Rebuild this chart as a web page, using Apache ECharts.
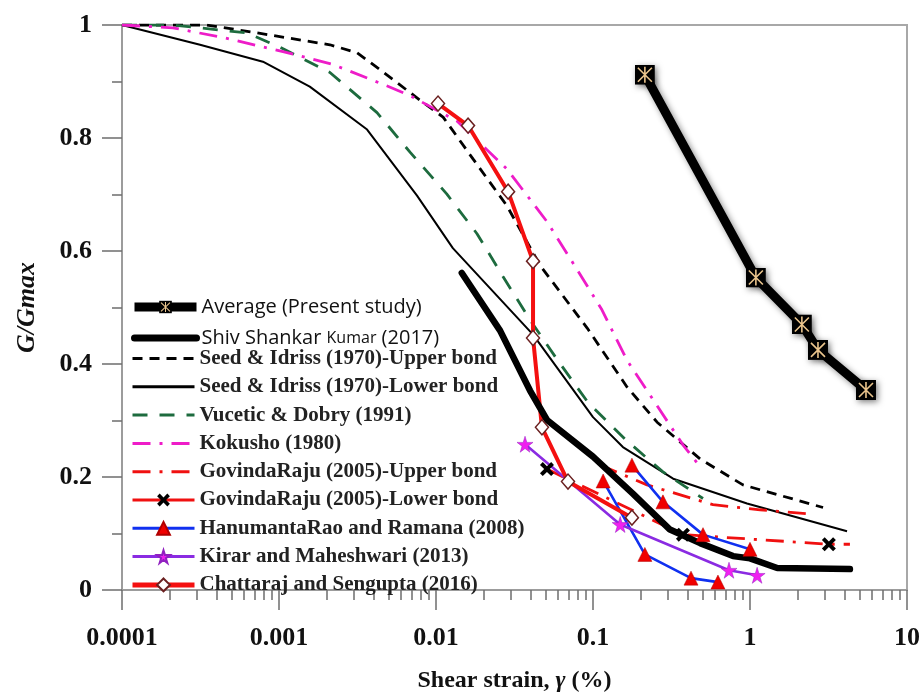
<!DOCTYPE html>
<html>
<head>
<meta charset="utf-8">
<title>G/Gmax vs shear strain</title>
<script src="https://cdn.jsdelivr.net/npm/echarts@6/dist/echarts.min.js"></script>
<style>
  html,body{margin:0;padding:0;background:#fff;}
  #main{width:924px;height:698px;}
</style>
</head>
<body>
<div id="main"></div>
<script>
// values: x = shear strain (%), y = G/Gmax
var avgX = [0.214, 1.09, 2.14, 2.71, 5.48];
var avgY = [0.912, 0.553, 0.470, 0.425, 0.354];

var shivX = [0.0146, 0.0256, 0.0397, 0.0509, 0.1, 0.18, 0.309, 0.481, 0.78, 1.0, 1.49, 4.33];
var shivY = [0.561, 0.459, 0.353, 0.301, 0.236, 0.170, 0.107, 0.083, 0.060, 0.056, 0.039, 0.037];

var seedUX = [0.0001, 0.000347, 0.000724, 0.00211, 0.00314, 0.00439, 0.00826, 0.0111, 0.0172, 0.0283, 0.0459, 0.0916, 0.165, 0.256, 0.481, 0.902, 2.92];
var seedUY = [1, 1, 0.986, 0.965, 0.951, 0.921, 0.863, 0.837, 0.763, 0.680, 0.575, 0.464, 0.359, 0.297, 0.232, 0.186, 0.146];

var seedLX = [0.0001, 0.000314, 0.00079, 0.00157, 0.00364, 0.00757, 0.0128, 0.0415, 0.1, 0.155, 0.324, 0.957, 4.15];
var seedLY = [1, 0.965, 0.935, 0.891, 0.815, 0.698, 0.605, 0.452, 0.306, 0.253, 0.197, 0.153, 0.104];

var vdX = [0.0001, 0.000211, 0.000625, 0.00101, 0.00211, 0.00421, 0.00683, 0.0117, 0.0182, 0.0267, 0.0397, 0.0598, 0.0929, 0.160, 0.279, 0.502];
var vdY = [1, 1, 0.986, 0.961, 0.916, 0.845, 0.775, 0.701, 0.631, 0.555, 0.478, 0.406, 0.332, 0.267, 0.209, 0.162];

var kokX = [0.0001, 0.000211, 0.000453, 0.00106, 0.00221, 0.0046, 0.00683, 0.0136, 0.0283, 0.0509, 0.0768, 0.114, 0.165, 0.374, 0.494];
var kokY = [1, 0.995, 0.977, 0.953, 0.930, 0.895, 0.875, 0.830, 0.745, 0.652, 0.573, 0.496, 0.406, 0.257, 0.214];

var govUX = [0.111, 0.221, 0.581, 1.16, 2.31];
var govUY = [0.221, 0.186, 0.151, 0.142, 0.135];

var govLX = [0.0509, 0.374, 3.18, 4.33];
var govLY = [0.214, 0.098, 0.081, 0.081];

var hanAX = [0.177, 0.279, 0.502, 1.0];
var hanAY = [0.221, 0.156, 0.098, 0.072];
var hanBX = [0.116, 0.214, 0.421, 0.625];
var hanBY = [0.193, 0.063, 0.021, 0.014];

var kirX = [0.0369, 0.149, 0.735, 1.11];
var kirY = [0.258, 0.116, 0.035, 0.026];

var chaX = [0.0103, 0.016, 0.0288, 0.0415, 0.0415, 0.0473, 0.0693, 0.177];
var chaY = [0.861, 0.822, 0.705, 0.582, 0.446, 0.288, 0.192, 0.128];

var xTickLabels = ['0.0001', '0.001', '0.01', '0.1', '1', '10'];

function pairs(xs, ys) {
  return xs.map(function (x, i) { return [x, ys[i]]; });
}

// minor tick positions of the log axis, in log10 units (2..9 of each decade)
var minorTicks = [];
for (var k = -4; k < 1; k++) {
  for (var m = 2; m <= 9; m++) minorTicks.push(Math.log10(m) + k);
}

var avgSvg = "<svg xmlns='http://www.w3.org/2000/svg' width='20' height='20'>" +
  "<rect width='20' height='20' fill='#000'/>" +
  "<path d='M3 3L17 17M17 3L3 17M10 2V18' stroke='#eac48c' stroke-width='1.6'/></svg>";
var avgSymbol = 'image://data:image/svg+xml;charset=utf-8,' + encodeURIComponent(avgSvg);
var crossSymbol = 'path://M2,0 L5,3 L8,0 L10,2 L7,5 L10,8 L8,10 L5,7 L2,10 L0,8 L3,5 L0,2Z';
var starSymbol = 'path://M50,0 L61,35 L98,35 L68,57 L79,91 L50,70 L21,91 L32,57 L2,35 L39,35Z';

var serif = 'Liberation Serif';
var tickGray = '#6e6e6e';
var noSym = {opacity: 0, color: 'rgba(0,0,0,0)', borderWidth: 0};

var chart = echarts.init(document.getElementById('main'));
chart.setOption({
  animation: false,
  backgroundColor: '#fff',
  grid: {left: 122, right: 17, top: 25, bottom: 104, show: true, borderColor: '#a8a8a8', borderWidth: 2},
  legend: [{
    orient: 'vertical', left: 125, top: 292, itemWidth: 62, itemHeight: 16, itemGap: 11,
    textStyle: {fontFamily: 'Open Sans', fontSize: 20, color: '#111', lineHeight: 20,
      rich: {s: {fontFamily: 'Open Sans', fontSize: 16, color: '#111'}}},
    formatter: function (n) { return n.indexOf('Kumar') > 0 ? 'Shiv Shankar {s|Kumar} (2017)' : n; },
    data: [
      {name: 'Average (Present study)', lineStyle: {width: 9, color: '#000'}},
      {name: 'Shiv Shankar Kumar (2017)', itemStyle: noSym, lineStyle: {width: 7, color: '#000'}}
    ]
  }, {
    orient: 'vertical', left: 125, top: 343, itemWidth: 62, itemHeight: 16, itemGap: 7.3,
    textStyle: {fontFamily: serif, fontWeight: 'bold', fontSize: 21, color: '#222', lineHeight: 20},
    data: [
      {name: 'Seed & Idriss (1970)-Upper bond', itemStyle: noSym, lineStyle: {width: 3}},
      {name: 'Seed & Idriss (1970)-Lower bond', itemStyle: noSym, lineStyle: {width: 3}},
      {name: 'Vucetic & Dobry (1991)', itemStyle: noSym, lineStyle: {width: 3}},
      {name: 'Kokusho (1980)', itemStyle: noSym, lineStyle: {width: 3}},
      {name: 'GovindaRaju (2005)-Upper bond', itemStyle: noSym, lineStyle: {width: 3}},
      {name: 'GovindaRaju (2005)-Lower bond', lineStyle: {width: 3, type: 'solid'}},
      {name: 'HanumantaRao and Ramana (2008)', lineStyle: {width: 3}},
      {name: 'Kirar and Maheshwari (2013)', lineStyle: {width: 3}},
      {name: 'Chattaraj and Sengupta (2016)', lineStyle: {width: 5}}
    ]
  }],
  xAxis: [{
    type: 'log', logBase: 10, min: 0.0001, max: 10, position: 'bottom',
    name: 'Shear strain, {g|γ} (%)', nameLocation: 'middle', nameGap: 79,
    nameTextStyle: {fontFamily: serif, fontWeight: 'bold', fontSize: 24, color: '#111',
      rich: {g: {fontFamily: serif, fontWeight: 'bold', fontStyle: 'italic', fontSize: 24, color: '#111'}}},
    axisLine: {show: true, onZero: false, lineStyle: {color: '#9c9c9c', width: 2}},
    axisTick: {show: true, inside: false, length: 20, lineStyle: {color: tickGray, width: 1.5}},
    axisLabel: {margin: 35, fontFamily: serif, fontWeight: 'bold', fontSize: 26, color: '#111',
      formatter: function (v) { return xTickLabels[Math.round(Math.log10(v)) + 4]; }},
    splitLine: {show: false}
  }, {
    type: 'value', min: -4, max: 1, position: 'bottom',
    axisLine: {show: false, onZero: false},
    axisTick: {show: true, inside: false, length: 10, customValues: minorTicks, lineStyle: {color: tickGray, width: 1.5}},
    axisLabel: {show: false},
    splitLine: {show: false}
  }],
  yAxis: {
    type: 'value', min: 0, max: 1, interval: 0.2, position: 'left',
    name: 'G/Gmax', nameLocation: 'middle', nameGap: 82,
    nameTextStyle: {fontFamily: serif, fontWeight: 'bold', fontStyle: 'italic', fontSize: 26, color: '#111'},
    axisLine: {show: true, onZero: false, lineStyle: {color: '#9c9c9c', width: 2}},
    axisTick: {show: true, length: 20, lineStyle: {color: tickGray, width: 1.5}},
    minorTick: {show: true, splitNumber: 2, length: 10, lineStyle: {color: tickGray, width: 1.5}},
    axisLabel: {margin: 30, fontFamily: serif, fontWeight: 'bold', fontSize: 26, color: '#111'},
    splitLine: {show: false}
  },
  series: [{
    name: 'Seed & Idriss (1970)-Upper bond', type: 'line', symbol: 'none',
    lineStyle: {color: '#000', width: 2.8, type: [10, 7]},
    data: pairs(seedUX, seedUY)
  }, {
    name: 'Seed & Idriss (1970)-Lower bond', type: 'line', symbol: 'none',
    lineStyle: {color: '#000', width: 2},
    data: pairs(seedLX, seedLY)
  }, {
    name: 'Vucetic & Dobry (1991)', type: 'line', symbol: 'none',
    lineStyle: {color: '#1d6b3e', width: 2.8, type: [15, 12]},
    data: pairs(vdX, vdY)
  }, {
    name: 'Kokusho (1980)', type: 'line', symbol: 'none',
    lineStyle: {color: '#ee1cc8', width: 2.8, type: [18, 9, 3, 9]},
    data: pairs(kokX, kokY)
  }, {
    name: 'GovindaRaju (2005)-Upper bond', type: 'line', symbol: 'none',
    lineStyle: {color: '#f01010', width: 2.8, type: [18, 9, 3, 9]},
    data: pairs(govUX, govUY)
  }, {
    name: 'GovindaRaju (2005)-Lower bond', type: 'line', symbol: crossSymbol, symbolSize: 14,
    itemStyle: {color: '#000'},
    lineStyle: {color: '#f01010', width: 2.8, type: [18, 9, 3, 9]},
    data: pairs(govLX, govLY).map(function (p, i) {
      return i === govLX.length - 1 ? {value: p, symbol: 'none'} : p;
    })
  }, {
    name: 'HanumantaRao and Ramana (2008)', type: 'line', symbol: 'triangle', symbolSize: 14,
    itemStyle: {color: '#f00000', borderColor: '#b00000', borderWidth: 0.5},
    lineStyle: {color: '#1030f0', width: 2.6},
    data: pairs(hanAX, hanAY)
  }, {
    name: 'HanumantaRao and Ramana (2008)', type: 'line', symbol: 'triangle', symbolSize: 14,
    itemStyle: {color: '#f00000', borderColor: '#b00000', borderWidth: 0.5},
    lineStyle: {color: '#1030f0', width: 2.6},
    data: pairs(hanBX, hanBY)
  }, {
    name: 'Kirar and Maheshwari (2013)', type: 'line', symbol: starSymbol, symbolSize: 16,
    itemStyle: {color: '#f020f0', borderColor: '#9020c0', borderWidth: 0.5},
    lineStyle: {color: '#8a2be2', width: 2.6},
    data: pairs(kirX, kirY)
  }, {
    name: 'Chattaraj and Sengupta (2016)', type: 'line', symbol: 'diamond', symbolSize: [13, 15],
    itemStyle: {color: '#fff', borderColor: '#6a2020', borderWidth: 1.5},
    lineStyle: {color: '#f41010', width: 4},
    data: pairs(chaX, chaY)
  }, {
    name: 'Shiv Shankar Kumar (2017)', type: 'line', symbol: 'none',
    lineStyle: {color: '#000', width: 6.5, cap: 'round'},
    data: pairs(shivX, shivY)
  }, {
    name: 'Average (Present study)', type: 'line', symbol: avgSymbol, symbolSize: 20,
    itemStyle: {shadowBlur: 6, shadowColor: 'rgba(0,0,0,0.5)', shadowOffsetX: 2, shadowOffsetY: 2},
    lineStyle: {color: '#000', width: 9, shadowBlur: 6, shadowColor: 'rgba(0,0,0,0.45)', shadowOffsetX: 2, shadowOffsetY: 2},
    data: pairs(avgX, avgY)
  }]
});
</script>
</body>
</html>
